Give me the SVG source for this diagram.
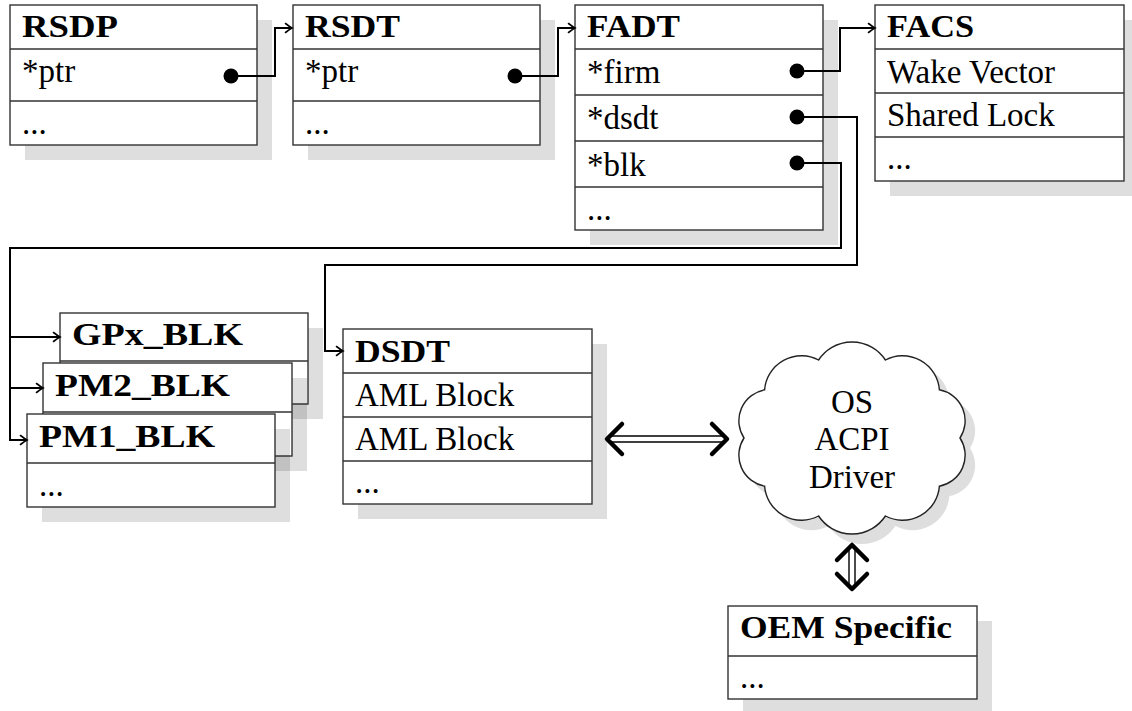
<svg xmlns="http://www.w3.org/2000/svg" width="1132" height="711" viewBox="0 0 1132 711">
<style>
.box{fill:#fff;stroke:#333;stroke-width:1.4}
.sep{stroke:#333;stroke-width:1.4}
.sh{fill:#000;fill-opacity:0.13}
.t{font-family:"Liberation Serif","Times New Roman",serif;font-size:33px;fill:#000}
.b{font-weight:bold;font-size:32px}
.conn{fill:none;stroke:#000;stroke-width:2}
.dot{fill:#000}
.dl{fill:none;stroke:#000;stroke-width:1.4}
.head{fill:none;stroke:#000;stroke-width:4.5;stroke-linecap:round;stroke-linejoin:round}
</style>
<defs>
<marker id="arr" viewBox="-8 -6 10 12" refX="0" refY="0" markerWidth="10" markerHeight="12" markerUnits="userSpaceOnUse" orient="auto">
<path d="M-6.5,-4.5 Q-2,-1 0,0 Q-2,1 -6.5,4.5" fill="none" stroke="#000" stroke-width="1.6" stroke-linecap="round"/>
</marker>
<path id="cloudp" d="M818.6,360 A40,40 0 0 1 885.4,360 A37,37 0 0 1 939.4,389.8 A31.5,31.5 0 0 1 960,438 A31.5,31.5 0 0 1 939.4,486.2 A37,37 0 0 1 885.4,516 A40,40 0 0 1 818.6,516 A37,37 0 0 1 764.6,486.2 A31.5,31.5 0 0 1 744,438 A31.5,31.5 0 0 1 764.6,389.8 A37,37 0 0 1 818.6,360 Z"/>
</defs>

<g id="RSDP">
<rect class="sh" x="25" y="20" width="247" height="140"/>
<rect class="box" x="10" y="5" width="247" height="140"/>
<line class="sep" x1="10" y1="49" x2="257" y2="49"/>
<line class="sep" x1="10" y1="101" x2="257" y2="101"/>
<text class="t b" x="22" y="37" textLength="96" lengthAdjust="spacingAndGlyphs">RSDP</text>
<text class="t" x="22" y="82">*ptr</text>
<text class="t" x="22" y="134">...</text>
</g>

<g id="RSDT">
<rect class="sh" x="308" y="20" width="247" height="140"/>
<rect class="box" x="293" y="5" width="247" height="140"/>
<line class="sep" x1="293" y1="49" x2="540" y2="49"/>
<line class="sep" x1="293" y1="101" x2="540" y2="101"/>
<text class="t b" x="305" y="37" textLength="95" lengthAdjust="spacingAndGlyphs">RSDT</text>
<text class="t" x="305" y="82">*ptr</text>
<text class="t" x="305" y="134">...</text>
</g>

<g id="FADT">
<rect class="sh" x="590" y="20" width="248" height="225"/>
<rect class="box" x="575" y="5" width="248" height="225"/>
<line class="sep" x1="575" y1="49" x2="823" y2="49"/>
<line class="sep" x1="575" y1="95" x2="823" y2="95"/>
<line class="sep" x1="575" y1="141" x2="823" y2="141"/>
<line class="sep" x1="575" y1="187" x2="823" y2="187"/>
<text class="t b" x="587" y="37" textLength="93" lengthAdjust="spacingAndGlyphs">FADT</text>
<text class="t" x="587" y="83">*firm</text>
<text class="t" x="587" y="129">*dsdt</text>
<text class="t" x="587" y="176">*blk</text>
<text class="t" x="587" y="220">...</text>
</g>

<g id="FACS">
<rect class="sh" x="890" y="20" width="249" height="176"/>
<rect class="box" x="875" y="5" width="249" height="176"/>
<line class="sep" x1="875" y1="49" x2="1124" y2="49"/>
<line class="sep" x1="875" y1="93" x2="1124" y2="93"/>
<line class="sep" x1="875" y1="137" x2="1124" y2="137"/>
<text class="t b" x="887" y="37" textLength="87" lengthAdjust="spacingAndGlyphs">FACS</text>
<text class="t" x="887" y="83">Wake Vector</text>
<text class="t" x="887" y="126">Shared Lock</text>
<text class="t" x="887" y="169">...</text>
</g>

<g id="GPx_BLK">
<rect class="sh" x="75" y="328" width="248" height="91"/>
<rect class="box" x="60" y="313" width="248" height="91"/>
<line class="sep" x1="60" y1="361" x2="308" y2="361"/>
<text class="t b" x="72" y="345" textLength="171" lengthAdjust="spacingAndGlyphs">GPx_BLK</text>
</g>

<g id="PM2_BLK">
<rect class="sh" x="58" y="378" width="249" height="93"/>
<rect class="box" x="43" y="363" width="249" height="93"/>
<line class="sep" x1="43" y1="412" x2="292" y2="412"/>
<text class="t b" x="55" y="396" textLength="175" lengthAdjust="spacingAndGlyphs">PM2_BLK</text>
</g>

<g id="PM1_BLK">
<rect class="sh" x="42" y="429" width="248" height="93"/>
<rect class="box" x="27" y="414" width="248" height="93"/>
<line class="sep" x1="27" y1="463" x2="275" y2="463"/>
<text class="t b" x="39" y="447" textLength="176" lengthAdjust="spacingAndGlyphs">PM1_BLK</text>
<text class="t" x="39" y="496">...</text>
</g>

<g id="DSDT">
<rect class="sh" x="358" y="344" width="249" height="175"/>
<rect class="box" x="343" y="329" width="249" height="175"/>
<line class="sep" x1="343" y1="373" x2="592" y2="373"/>
<line class="sep" x1="343" y1="417" x2="592" y2="417"/>
<line class="sep" x1="343" y1="461" x2="592" y2="461"/>
<text class="t b" x="355" y="362" textLength="95" lengthAdjust="spacingAndGlyphs">DSDT</text>
<text class="t" x="355" y="406">AML Block</text>
<text class="t" x="355" y="450">AML Block</text>
<text class="t" x="355" y="493">...</text>
</g>

<g id="OS_ACPI_Driver">
<use href="#cloudp" class="sh" transform="translate(10,10)"/>
<use href="#cloudp" fill="#fff" stroke="#222" stroke-width="1.4"/>
<text class="t" x="852" y="413" text-anchor="middle">OS</text>
<text class="t" x="852" y="450" text-anchor="middle">ACPI</text>
<text class="t" x="852" y="488" text-anchor="middle">Driver</text>
</g>

<g id="OEM_Specific">
<rect class="sh" x="743" y="621" width="249" height="93"/>
<rect class="box" x="728" y="606" width="249" height="93"/>
<line class="sep" x1="728" y1="656" x2="977" y2="656"/>
<text class="t b" x="740" y="638" textLength="212" lengthAdjust="spacingAndGlyphs">OEM Specific</text>
<text class="t" x="740" y="688">...</text>
</g>

<g id="connectors">
<path class="conn" d="M231,76 H275 V28 H292" marker-end="url(#arr)"/>
<circle class="dot" cx="231" cy="76" r="7.5"/>
<path class="conn" d="M515,76 H558 V28 H575" marker-end="url(#arr)"/>
<circle class="dot" cx="515" cy="76" r="7.5"/>
<path class="conn" d="M797,71 H840 V28 H875" marker-end="url(#arr)"/>
<circle class="dot" cx="797" cy="71" r="7.5"/>
<path class="conn" d="M797,117 H857 V265 H325 V351 H343" marker-end="url(#arr)"/>
<circle class="dot" cx="797" cy="117" r="7.5"/>
<path class="conn" d="M797,163 H841 V248 H10 V440 H27" marker-end="url(#arr)"/>
<path class="conn" d="M10,337 H60" marker-end="url(#arr)"/>
<path class="conn" d="M10,388 H43" marker-end="url(#arr)"/>
<circle class="dot" cx="797" cy="163" r="7.5"/>
<path class="dl" d="M611,436 H723 M611,442 H723"/>
<path class="head" d="M622,424 Q614,432 607,439 Q614,446 622,454"/>
<path class="head" d="M712,424 Q720,432 727,439 Q720,446 712,454"/>
<path class="dl" d="M849,549 V585 M855,549 V585"/>
<path class="head" d="M837,560 Q845,552 852,545 Q859,552 867,560"/>
<path class="head" d="M837,574 Q845,582 852,589 Q859,582 867,574"/>
</g>
</svg>
